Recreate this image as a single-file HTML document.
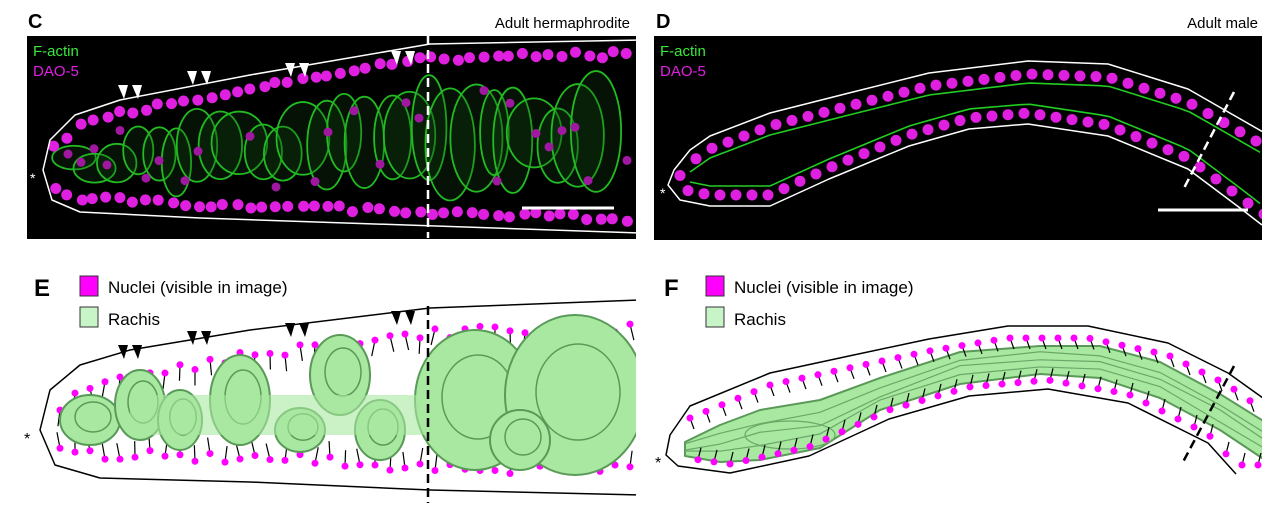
<!DOCTYPE html>
<html><head><meta charset="utf-8"><style>
body{margin:0;background:#fff;width:1276px;height:515px;overflow:hidden;font-family:"Liberation Sans",Arial,sans-serif}
svg{position:absolute;left:0;top:0}
</style></head><body>
<svg id="s" width="1276" height="515" viewBox="0 0 1276 515" xmlns="http://www.w3.org/2000/svg">
<defs>
<clipPath id="cc"><rect x="27" y="36" width="609" height="203"/></clipPath>
<clipPath id="cd"><rect x="654" y="36" width="608" height="204"/></clipPath>
<clipPath id="ce"><rect x="0" y="260" width="636" height="255"/></clipPath>
<clipPath id="cf"><rect x="650" y="260" width="612" height="255"/></clipPath>
</defs>
<rect x="27" y="36" width="609" height="203" fill="#000"/>
<rect x="654" y="36" width="608" height="204" fill="#000"/>
<g id="gc" clip-path="url(#cc)"></g>
<g id="gd" clip-path="url(#cd)"></g>
<g id="ge" clip-path="url(#ce)"></g>
<g id="gf" clip-path="url(#cf)"></g>
<text x="28" y="28" font-size="20" font-weight="bold">C</text>
<text x="630" y="28" font-size="15" text-anchor="end">Adult hermaphrodite</text>
<text x="656" y="28" font-size="20" font-weight="bold">D</text>
<text x="1258" y="28" font-size="15" text-anchor="end">Adult male</text>
<text x="33" y="56" font-size="15" fill="#39e639">F-actin</text>
<text x="33" y="76" font-size="15" fill="#e020e0">DAO-5</text>
<text x="660" y="56" font-size="15" fill="#39e639">F-actin</text>
<text x="660" y="76" font-size="15" fill="#e020e0">DAO-5</text>
<text x="30" y="183" font-size="14" fill="#fff">*</text>
<text x="660" y="198" font-size="14" fill="#fff">*</text>
<line x1="522" y1="208" x2="614" y2="208" stroke="#fff" stroke-width="3"/>
<line x1="1158" y1="210" x2="1248" y2="210" stroke="#fff" stroke-width="3"/>
<line x1="428" y1="36" x2="428" y2="238" stroke="#fff" stroke-width="2.5" stroke-dasharray="9,5"/>
<line x1="1234" y1="92" x2="1183" y2="190" stroke="#fff" stroke-width="2.5" stroke-dasharray="9,5"/>
<text x="34" y="296" font-size="24" font-weight="bold">E</text>
<rect x="80" y="276" width="18" height="20" fill="#f0f" stroke="#333"/>
<rect x="80" y="307" width="18" height="20" fill="#c8f5c8" stroke="#333"/>
<text x="108" y="293" font-size="17">Nuclei (visible in image)</text>
<text x="108" y="325" font-size="17">Rachis</text>
<text x="664" y="296" font-size="24" font-weight="bold">F</text>
<rect x="706" y="276" width="18" height="20" fill="#f0f" stroke="#333"/>
<rect x="706" y="307" width="18" height="20" fill="#c8f5c8" stroke="#333"/>
<text x="734" y="293" font-size="17">Nuclei (visible in image)</text>
<text x="734" y="325" font-size="17">Rachis</text>
<text x="24" y="444" font-size="16">*</text>
<text x="655" y="468" font-size="16">*</text>
<line x1="428" y1="306" x2="428" y2="503" stroke="#000" stroke-width="2.5" stroke-dasharray="9,5"/>
<line x1="1234" y1="366" x2="1183" y2="462" stroke="#000" stroke-width="2.5" stroke-dasharray="9,5"/>
</svg>
<script>
const NS="http://www.w3.org/2000/svg";
function el(g,t,a){const e=document.createElementNS(NS,t);for(const k in a)e.setAttribute(k,a[k]);g.appendChild(e);return e}
function interp(pts,x){for(let i=0;i<pts.length-1;i++){if(x>=pts[i][0]&&x<=pts[i+1][0]){const t=(x-pts[i][0])/(pts[i+1][0]-pts[i][0]);return pts[i][1]+t*(pts[i+1][1]-pts[i][1])}}return pts[pts.length-1][1]}
function pathOf(top,bot,dy){let d="M"+top[top.length-1][0]+","+(top[top.length-1][1]+dy);for(let i=top.length-2;i>=0;i--)d+=" L"+top[i][0]+","+(top[i][1]+dy);for(let i=1;i<bot.length;i++)d+=" L"+bot[i][0]+","+(bot[i][1]+dy);return d}
let seed=7;function r(){seed=(seed*9301+49297)%233280;return seed/233280}
const tC=[[43,170],[50,140],[75,115],[120,100],[250,75],[430,44],[640,40]];
const bC=[[43,170],[52,200],[80,212],[200,218],[640,233]];
function worm(g,top,bot,dy,stroke){el(g,"path",{d:pathOf(top,bot,dy),fill:"none",stroke:stroke,"stroke-width":1.5,"stroke-linejoin":"round"})}
const gc=document.getElementById("gc"),ge=document.getElementById("ge");
for(let i=0;i<26;i++){const x=70+i*21+r()*8;const yt=interp(tC,x)+25,yb=interp(bC,x)-25;const cy=(yt+yb)/2;const rx=14+r()*14,ry=(yb-yt)/2*(0.5+r()*0.4);
el(gc,"ellipse",{cx:x,cy:cy+(r()-0.5)*20,rx:rx,ry:ry,fill:"rgba(20,70,20,0.25)",stroke:"#2b2",
"stroke-width":1.8})}
for(let x=55;x<640;x+=13){for(const [pts,off] of [[tC,14],[bC,-14]]){const y=interp(pts,x)+off+(r()-0.5)*6;el(gc,"circle",{cx:x+(r()-0.5)*4,cy:y,r:5.5,fill:"#e020e0"});}
if(r()<0.5){const yt=interp(tC,x)+30,yb=interp(bC,x)-30;el(gc,"circle",{cx:x,cy:yt+r()*(yb-yt),r:4.5,fill:"#a018a0"})}}
worm(gc,tC,bC,0,"#fff");
function arrows(g,col,dy){[[123,92],[192,78],[290,70],[396,58]].forEach(([x,y])=>{for(const dx of[0,14]){el(g,"polygon",{points:`${x+dx-5},${y+dy-7} ${x+dx+5},${y+dy-7} ${x+dx+1},${y+dy+7}`,fill:col})}})}
arrows(gc,"#fff",0);
const tE=[[40,430],[50,390],[80,365],[130,350],[250,330],[430,308],[640,300]];
const bE=[[40,430],[55,465],[100,478],[250,482],[430,490],[640,495]];
worm(ge,tE,bE,0,"#000");
const blobs=[[90,420,30,25],[140,405,25,35],[180,420,22,30],[240,400,30,45],[300,430,25,22],[340,375,30,40],[380,430,25,30],[475,400,60,70],[575,395,70,80],[520,440,30,30]];
for(let x=60;x<640;x+=15){const yt=interp(tE,x)+20+r()*12,yb=interp(bE,x)-18-r()*12;
for(const [y,dd] of [[yt,16],[yb,-16]]){el(ge,"line",{x1:x,y1:y,x2:x+(r()-0.5)*8,y2:y+dd,stroke:"#000","stroke-width":1.2});el(ge,"circle",{cx:x,cy:y,r:3.5,fill:"#f0f"})}}
blobs.forEach(([x,y,rx,ry])=>{el(ge,"ellipse",{cx:x,cy:y,rx:rx,ry:ry,fill:"#a9e8a0",stroke:"#5a9a58","stroke-width":2});el(ge,"ellipse",{cx:x+3,cy:y-3,rx:rx*0.6,ry:ry*0.6,fill:"none",stroke:"#5a9a58","stroke-width":1.5})});
el(ge,"rect",{x:130,y:395,width:310,height:40,fill:"#a9e8a0",opacity:0.6});
arrows(ge,"#000",260);
const gd=document.getElementById("gd"),gf=document.getElementById("gf");
const tD=[[668,185],[674,170],[690,150],[710,136],[770,113],[849,93],[929,73],[1028,61],[1108,64],[1188,89],[1270,136]];
const bD=[[668,185],[680,200],[710,206],[770,206],[829,179],[909,146],[969,129],[1028,124],[1108,136],[1188,169],[1240,208],[1262,225]];
for(let x=680;x<1262;x+=16){const yt=interp(tD,x)+13;
el(gd,"circle",{cx:x,cy:yt,r:5.5,fill:"#e020e0"});el(gd,"circle",{cx:x+8,cy:interp(bD,x+8)-11,r:5.5,fill:"#e020e0"});}
let ln="",ln2="";for(let x=690;x<1262;x+=10){ln+=(x==690?"M":"L")+x+","+(interp(tD,x)+22)+" ";ln2+=(x==690?"M":"L")+x+","+(interp(bD,x)-20)+" "}
el(gd,"path",{d:ln,fill:"none",stroke:"#2c2","stroke-width":1.6});el(gd,"path",{d:ln2,fill:"none",stroke:"#2c2","stroke-width":1.6});
worm(gd,tD,bD,0,"#fff");
const tF=[[666,455],[670,435],[690,406],[770,373],[849,356],[929,339],[1008,326],[1088,326],[1168,343],[1228,373],[1270,403]];
const bF=[[666,455],[678,466],[730,473],[809,456],[889,419],[969,396],[1048,389],[1128,403],[1208,443],[1236,474]];
const bt=[[685,442],[720,425],[760,410],[820,400],[880,378],[960,352],[1040,346],[1100,346],[1160,362],[1220,394],[1265,422]];
const bb=[[685,456],[720,462],[760,460],[820,448],[880,410],[960,384],[1040,374],[1100,378],[1160,398],[1220,430],[1265,460]];
let band="M"+bt.map(p=>p.join(",")).join(" L")+" L"+bb.slice().reverse().map(p=>p.join(",")).join(" L")+"Z";
el(gf,"path",{d:band,fill:"#a9e8a0",stroke:"#5a9a58","stroke-width":2,"stroke-linejoin":"round"});
for(let k=1;k<4;k++){let d="";bt.forEach((p,i)=>{const y=p[1]+(bb[i][1]-p[1])*k/4+(r()-0.5)*6;d+=(i?"L":"M")+p[0]+","+y+" "});el(gf,"path",{d:d,fill:"none",stroke:"#6aa868","stroke-width":1.2})}
el(gf,"ellipse",{cx:790,cy:435,rx:45,ry:14,fill:"none",stroke:"#6aa868","stroke-width":1.2});
for(let x=690;x<1262;x+=16){const yt=interp(tF,x)+12;
const bx=x+8,by=interp(bF,bx)-9;
el(gf,"line",{x1:x,y1:yt,x2:x+4,y2:yt+11,stroke:"#000","stroke-width":1.2});el(gf,"circle",{cx:x,cy:yt,r:3.5,fill:"#f0f"});
el(gf,"line",{x1:bx,y1:by,x2:bx+3,y2:by-12,stroke:"#000","stroke-width":1.2});el(gf,"circle",{cx:bx,cy:by,r:3.5,fill:"#f0f"});}
worm(gf,tF,bF,0,"#000");
</script>
</body></html>
